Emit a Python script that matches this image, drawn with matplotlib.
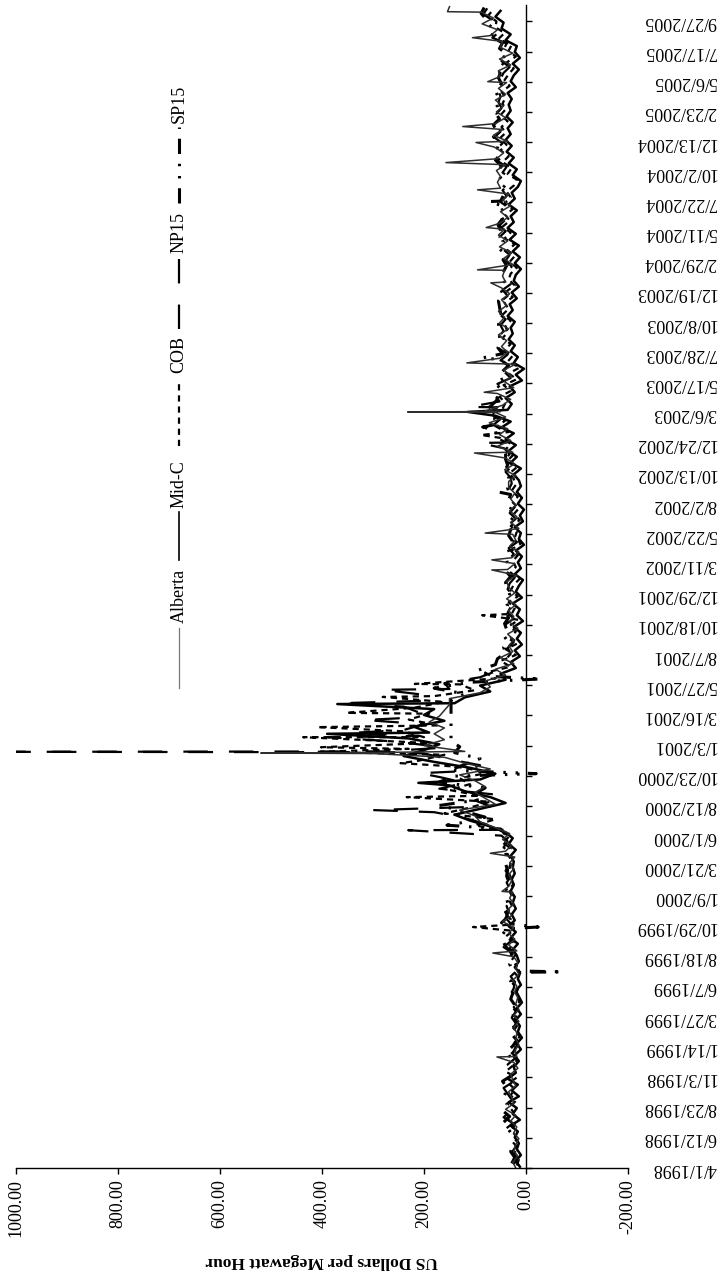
import numpy as np
import pandas as pd
import matplotlib
matplotlib.use('Agg')
import matplotlib.pyplot as plt
import matplotlib.dates as mdates

plt.rcParams['font.family'] = ['Liberation Serif', 'DejaVu Serif']

# daily hub prices, one value every 14 days from 4/1/1998
start = '1998-04-01'

alberta = [20, 26, 16, 24, 20, 14, 24, 18, 30, 20, 40, 24, 28,
           34, 20, 26, 30, 16, 24, 18, 22, 14, 20, 18, 24, 14,
           24, 14, 20, 16, 22, 18, 26, 14, 20, 16, 24, 18, 34,
           22, 34, 24, 46, 28, 36, 24, 32, 26, 34, 28, 34, 24,
           32, 22, 40, 28, 46, 32, 60, 90, 100, 130, 60, 80, 100,
           80, 100, 130, 70, 120, 160, 120, 200, 160, 180, 160, 190, 170,
           160, 150, 150, 90, 70, 80, 40, 60, 24, 50, 26, 34, 24,
           36, 16, 32, 24, 34, 20, 38, 22, 34, 38, 18, 36, 22,
           28, 14, 32, 20, 26, 14, 30, 18, 32, 20, 30, 22, 34,
           34, 20, 42, 22, 40, 26, 56, 30, 52, 36, 72, 40, 80,
           46, 30, 56, 24, 42, 28, 44, 20, 52, 36, 48, 38, 54,
           34, 52, 42, 54, 38, 48, 32, 48, 40, 46, 42, 26, 44,
           28, 52, 36, 54, 42, 52, 36, 50, 30, 46, 34, 50, 56,
           50, 58, 40, 58, 44, 62, 36, 64, 46, 60, 40, 58, 44,
           60, 40, 54, 38, 52, 54, 30, 52, 26, 50, 46, 70, 56,
           86, 64, 88]

mid_c = [12, 20, 10, 18, 14, 22, 16, 30, 12, 26, 18, 34, 14,
         28, 16, 36, 20, 24, 14, 22, 10, 18, 8, 16, 12, 20,
         10, 18, 8, 14, 20, 10, 16, 12, 22, 14, 18, 26, 16,
         30, 20, 34, 22, 28, 20, 26, 22, 30, 24, 28, 22, 26,
         24, 30, 20, 34, 26, 40, 70, 110, 140, 90, 40, 70, 120,
         150, 90, 60, 110, 180, 240, 200, 170, 230, 190, 220, 160, 200,
         180, 140, 120, 70, 90, 40, 50, 20, 30, 12, 22, 8, 18,
         10, 24, 6, 18, 12, 26, 8, 20, 14, 6, 22, 10, 16,
         8, 20, 4, 14, 10, 22, 6, 12, 4, 16, 8, 18, 10,
         14, 24, 10, 30, 18, 34, 20, 40, 24, 48, 30, 60, 36,
         28, 40, 22, 32, 8, 20, 4, 24, 16, 30, 22, 34, 26,
         30, 22, 36, 26, 32, 18, 28, 14, 24, 20, 10, 22, 12,
         26, 14, 32, 20, 36, 24, 30, 18, 34, 22, 28, 16, 10,
         26, 18, 34, 24, 38, 28, 40, 30, 36, 26, 38, 30, 34,
         28, 36, 20, 30, 24, 14, 26, 12, 22, 18, 40, 30, 48,
         44, 60, 50]

cob = [18, 14, 24, 16, 26, 20, 28, 22, 38, 24, 32, 20, 30,
       22, 34, 18, 40, 26, 18, 30, 14, 22, 12, 24, 16, 22,
       16, 24, 12, 22, 16, 26, 14, 24, 18, 28, 20, 32, 24,
       40, 26, 36, 30, 44, 26, 32, 28, 34, 24, 36, 30, 32,
       28, 36, 30, 44, 34, 46, 100, 60, 160, 110, 70, 90, 150,
       110, 130, 70, 140, 210, 160, 230, 190, 200, 240, 170, 230, 190,
       220, 160, 180, 100, 130, 60, 80, 30, 50, 20, 40, 16, 30,
       20, 32, 14, 28, 22, 34, 16, 30, 24, 12, 30, 20, 26,
       16, 28, 10, 22, 18, 30, 12, 24, 14, 26, 16, 28, 20,
       24, 32, 18, 38, 26, 40, 30, 50, 34, 56, 40, 70, 46,
       40, 52, 30, 44, 18, 34, 12, 36, 26, 42, 30, 46, 36,
       40, 30, 46, 34, 42, 26, 38, 22, 34, 30, 18, 32, 22,
       36, 22, 42, 30, 46, 32, 40, 26, 42, 30, 38, 24, 18,
       36, 28, 46, 34, 50, 38, 52, 40, 48, 36, 50, 40, 46,
       40, 48, 32, 42, 34, 24, 38, 20, 34, 28, 54, 42, 60,
       58, 74, 64]

np15 = [24, 16, 28, 20, 22, 26, 40, 26, 44, 30, 42, 28, 36,
        44, 26, 30, 24, 36, 22, 26, 20, 28, 18, 26, 20, 28,
        20, 28, 18, 30, 24, 22, 30, 18, 26, 36, 26, 44, 30,
        36, 46, 30, 40, 34, 38, 30, 36, 32, 38, 30, 40, 34,
        36, 30, 44, 36, 48, 40, 80, 120, 180, 70, 100, 60, 170,
        120, 170, 120, 90, 150, 200, 160, 250, 210, 240, 200, 250, 210,
        240, 190, 200, 150, 160, 90, 60, 50, 40, 30, 36, 24, 40,
        30, 40, 24, 36, 30, 38, 26, 36, 32, 22, 38, 28, 34,
        24, 34, 18, 30, 26, 34, 20, 32, 22, 32, 26, 34, 28,
        30, 40, 26, 44, 32, 42, 38, 62, 44, 64, 50, 84, 56,
        52, 60, 40, 56, 30, 42, 24, 50, 36, 52, 40, 54, 44,
        50, 40, 54, 44, 50, 36, 46, 30, 44, 36, 28, 40, 32,
        46, 34, 52, 40, 52, 40, 48, 34, 50, 38, 46, 32, 28,
        46, 38, 56, 42, 58, 46, 62, 50, 56, 44, 58, 48, 54,
        50, 54, 42, 50, 44, 32, 48, 30, 44, 38, 66, 52, 70,
        66, 84, 76]

sp15 = [28, 22, 30, 26, 18, 28, 36, 44, 32, 46, 36, 46, 40,
        38, 46, 28, 32, 20, 30, 38, 26, 18, 28, 22, 28, 24,
        28, 22, 30, 26, 28, 30, 20, 28, 32, 24, 30, 40, 46,
        46, 38, 48, 36, 40, 34, 38, 36, 40, 34, 38, 36, 40,
        38, 40, 36, 48, 40, 50, 130, 80, 120, 170, 90, 100, 80,
        170, 140, 150, 120, 90, 140, 130, 147, 147, 147, 147, 147, 147,
        147, 147, 120, 180, 110, 70, 96, 60, 56, 40, 44, 36, 44,
        38, 42, 34, 40, 36, 40, 32, 38, 40, 30, 40, 36, 38,
        32, 36, 26, 34, 30, 35, 26, 33, 28, 34, 30, 35, 32,
        34, 42, 36, 40, 40, 44, 50, 58, 60, 56, 62, 88, 70,
        58, 54, 50, 60, 40, 46, 34, 52, 46, 55, 50, 52, 52,
        54, 46, 50, 52, 54, 44, 50, 40, 48, 44, 38, 45, 40,
        54, 44, 50, 50, 55, 46, 54, 40, 50, 44, 48, 38, 50,
        56, 48, 60, 50, 56, 54, 64, 58, 64, 52, 60, 56, 58,
        56, 60, 48, 54, 50, 40, 54, 36, 52, 46, 70, 60, 72,
        78, 88, 82]

# single-day spikes seen on the chart
alberta_spikes = [('1998-12-22', 57), ('1999-08-27', 65), ('2000-01-21', 47),
                  ('2000-04-21', 70), ('2000-12-15', 300), ('2000-12-16', 520),
                  ('2000-12-17', 320), ('2002-02-26', 67), ('2002-03-22', 67),
                  ('2002-05-25', 80), ('2002-12-02', 101), ('2003-03-09', 60),
                  ('2003-03-10', 232), ('2003-03-11', 50), ('2003-04-26', 82),
                  ('2003-07-05', 116), ('2004-01-12', 69), ('2004-02-12', 95),
                  ('2004-05-23', 78), ('2004-08-21', 95), ('2004-10-25', 157),
                  ('2004-12-12', 98), ('2005-01-19', 124), ('2005-05-06', 75),
                  ('2005-08-19', 105), ('2005-10-20', 154), ('2005-11-01', 150)]
mid_c_spikes = [('2000-10-06', 211), ('2001-01-31', 390), ('2001-04-12', 370),
                ('2003-03-10', 114)]
cob_spikes = [('1999-10-28', 104), ('2000-09-02', 234), ('2000-11-22', 246),
              ('2000-12-19', 409), ('2000-12-30', 402), ('2001-01-23', 437),
              ('2001-02-16', 409), ('2001-03-22', 352), ('2001-04-29', 281),
              ('2001-05-30', 218), ('2001-11-10', 86), ('2003-01-14', 88)]
np15_spikes = [('2000-06-15', 231), ('2000-08-02', 300), ('2000-10-29', 208),
               ('2000-12-18', 260), ('2000-12-19', 1000), ('2000-12-20', 280),
               ('2001-01-23', 388), ('2001-02-02', 345), ('2001-03-05', 317),
               ('2001-04-14', 366), ('2001-05-16', 281), ('2002-12-26', 91),
               ('2003-03-22', 111)]
sp15_spikes = [('1999-07-12', 10), ('1999-07-13', -72), ('1999-07-15', 12),
               ('1999-10-28', -24), ('2000-06-27', 155), ('2000-10-28', -20),
               ('2001-06-11', -30), ('2002-08-31', 54), ('2003-02-02', 85),
               ('2003-07-17', 85), ('2004-07-24', 72)]

date_ticks = ['4/1/1998', '6/12/1998', '8/23/1998', '11/3/1998', '1/14/1999',
              '3/27/1999', '6/7/1999', '8/18/1999', '10/29/1999', '1/9/2000',
              '3/21/2000', '6/1/2000', '8/12/2000', '10/23/2000', '1/3/2001',
              '3/16/2001', '5/27/2001', '8/7/2001', '10/18/2001', '12/29/2001',
              '3/11/2002', '5/22/2002', '8/2/2002', '10/13/2002', '12/24/2002',
              '3/6/2003', '5/17/2003', '7/28/2003', '10/8/2003', '12/19/2003',
              '2/29/2004', '5/11/2004', '7/22/2004', '10/2/2004', '12/13/2004',
              '2/23/2005', '5/6/2005', '7/17/2005', '9/27/2005']
value_ticks = [1000, 800, 600, 400, 200, 0, -200]
value_labels = ['1000.00', '800.00', '600.00', '400.00', '200.00', '0.00', '-200.00']


def make_series(values, offset, spikes):
    idx = pd.date_range(pd.Timestamp(start) + pd.Timedelta(days=offset),
                        periods=len(values), freq='14D')
    s = pd.Series(values, index=idx, dtype=float)
    extra = pd.Series([v for _, v in spikes], index=pd.to_datetime([d for d, _ in spikes]))
    return pd.concat([s, extra]).sort_index()


series = [
    ('SP15', make_series(sp15, 11, sp15_spikes),
     dict(color='black', lw=2.2, ls=(0, (5, 3.2, 0.8, 3.2, 0.8, 3.2)))),
    ('NP15', make_series(np15, 9, np15_spikes), dict(color='black', lw=1.6, ls=(0, (11, 9.5)))),
    ('COB', make_series(cob, 6, cob_spikes), dict(color='black', lw=1.6, ls=(0, (2.8, 2.2)))),
    ('Mid-C', make_series(mid_c, 3, mid_c_spikes), dict(color='black', lw=1.8, ls='-')),
    ('Alberta', make_series(alberta, 0, alberta_spikes), dict(color='#2e2e2e', lw=1.1, ls='-')),
]

fig = plt.figure(figsize=(7.28, 12.75), dpi=100)
ax = fig.add_axes([16 / 728, 107 / 1275, 612 / 728, 1163 / 1275])

for name, s, st in series:
    ax.plot(s.values, s.index, **st)

t0 = pd.Timestamp(start)
ax.set_xlim(1000, -200)
ax.set_ylim(mdates.date2num(t0), mdates.date2num(t0 + pd.Timedelta(days=2775)))

ax.spines['top'].set_visible(False)
ax.spines['left'].set_visible(False)
ax.spines['right'].set_position(('data', 0))
ax.spines['right'].set_linewidth(1.0)
ax.spines['bottom'].set_linewidth(1.0)
ax.yaxis.set_ticks_position('right')

ax.set_xticks(value_ticks)
ax.set_xticklabels(value_labels, rotation=90, fontsize=13)
ax.tick_params(axis='x', length=4, width=1, pad=4)

tick_dates = mdates.date2num(pd.to_datetime(date_ticks, format='%m/%d/%Y'))
ax.set_yticks(tick_dates)
ax.set_yticklabels(date_ticks, rotation=180, ha='right', va='center', fontsize=13)
ax.tick_params(axis='y', length=4, width=1, pad=133)

ax.set_xlabel('US Dollars per Megawatt Hour', rotation=180, fontsize=12.5,
              fontweight='bold', va='top')
ax.xaxis.set_label_coords(0.5, -0.073)

# legend, drawn as a rotated column (image y of line ends and label start)
def ay(y_img):
    return (1168 - y_img) / 1163

lx = (179 - 16) / 612
legend_items = [('Alberta', 688, 628, 623), ('Mid-C', 560, 512, 508),
                ('COB', 446, 381, 373), ('NP15', 329, 256, 253),
                ('SP15', 203, 127, 123)]
styles = {name: st for name, _, st in series}
for name, y0, y1, yt in legend_items:
    st = dict(styles[name])
    if name == 'Alberta':
        st.update(color='#777777', lw=0.9)
    if name == 'Mid-C':
        st.update(lw=1.2)
    ax.plot([lx, lx], [ay(y0), ay(y1)], transform=ax.transAxes, clip_on=False, **st)
    ax.text(lx, ay(yt), name, transform=ax.transAxes, rotation=90, rotation_mode='anchor',
            ha='left', va='center', fontsize=13)

fig.savefig('out.png', dpi=100)
